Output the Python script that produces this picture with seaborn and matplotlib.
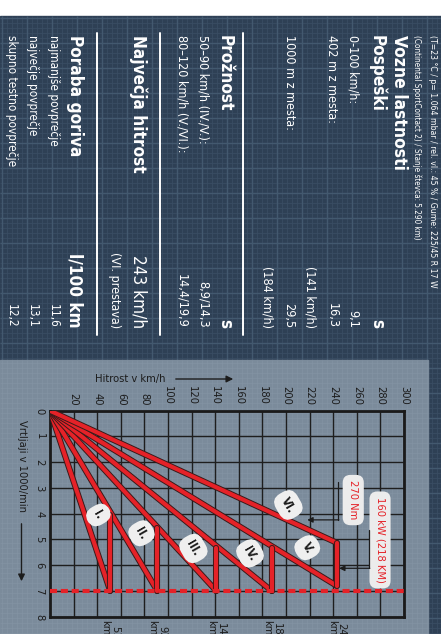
import matplotlib
matplotlib.use('Agg')
import matplotlib.pyplot as plt
import matplotlib.patheffects as pe
from matplotlib.patches import Rectangle
import numpy as np
import pandas as pd
import seaborn as sns

sns.set_theme(style='white')
plt.rcParams['font.family'] = ['DejaVu Sans']
plt.rcParams['font.stretch'] = 'condensed'

# gear lines (km/h vs 1000/min)
gears = ['I.', 'II.', 'III.', 'IV.', 'V.', 'VI.']
gear_top_speed = [51, 91, 141, 188, 243, 243]
gear_top_rpm = [7.0, 7.0, 7.0, 7.0, 6.8, 5.13]
shift_speed = [51, 91, 141, 188, 243]
shift_high_rpm = [7.0, 7.0, 7.0, 7.0, 6.8]
shift_low_rpm = [4.05, 4.57, 5.35, 5.33, 5.13]
max_rpm = 7.0
speed_ticks = list(range(20, 301, 20))
rpm_ticks = list(range(0, 9))
top_speed_labels = ['51\nkm/h', '92\nkm/h', '141\nkm/h', '188\nkm/h', '243\nkm/h']

# text block: (left text, right text, bold)
spec_rows = [
    ('Pospeški', 's', True),
    ('0-100 km/h:', '9,1', False),
    ('402 m z mesta:', '16,3', False),
    ('', '(141 km/h)', False),
    ('1000 m z mesta:', '29,5', False),
    ('', '(184 km/h)', False),
    ('Prožnost', 's', True),
    ('50–90 km/h (IV./V.):', '8,9/14,3', False),
    ('80–120 km/h (V./VI.):', '14,4/19,9', False),
    ('Največja hitrost', '243 km/h', True),
    ('', '(VI. prestava)', False),
    ('Poraba goriva', 'l/100 km', True),
    ('najmanjše povprečje', '11,6', False),
    ('največje povprečje', '13,1', False),
    ('skupno testno povprečje', '12,2', False),
]
row_x = [377, 353, 332, 310, 289, 267, 225, 203, 182, 138, 115, 75, 53, 32, 11]
row_size = [12.3, 9, 9, 9, 9, 9, 12.3, 9, 9, 12.3, 9, 12.3, 8.5, 8.5, 8.5]

NAVY = '#2e4055'
PANEL = '#7b8b9b'
RED = '#e52228'
INK = '#1c1c1c'

fig = plt.figure(figsize=(4.41, 6.34), dpi=100)
fig.patch.set_facecolor('white')
bg = fig.add_axes([0, 0, 1, 1])
bg.set_xlim(0, 441)
bg.set_ylim(634, 0)
bg.axis('off')

bg.add_patch(Rectangle((0, 16), 441, 618, color=NAVY, zorder=0))
bg.vlines(np.arange(2, 441, 5), 16, 634, color='#394d63', lw=0.6, zorder=1)
bg.hlines(np.arange(18, 634, 5), 0, 441, color='#394d63', lw=0.6, zorder=1)
bg.vlines(np.arange(2, 441, 25), 16, 634, color='#43596f', lw=1.0, zorder=1)
bg.hlines(np.arange(18, 634, 25), 0, 441, color='#43596f', lw=1.0, zorder=1)

bg.add_patch(Rectangle((0, 360), 428, 274, color=PANEL, zorder=2))
bg.vlines(np.arange(2, 428, 5), 360, 634, color='#8393a3', lw=0.5, zorder=2.1)
bg.hlines(np.arange(363, 634, 5), 0, 428, color='#8393a3', lw=0.5, zorder=2.1)


def col(x, y, s, size, bold=False, va='top', color='white'):
    bg.text(x, y, s, rotation=-90, ha='center', va=va, fontsize=size,
            fontweight='bold' if bold else 'normal', color=color, zorder=3)


col(433, 35, '(T=23 °C / p= 1.064 mbar / rel. vl.: 45 % / Gume: 225/45 R 17 W', 6.2)
col(417, 35, '(Continental SportContact 2) / Stanje števca: 5.290 km)', 5.9)
col(399, 35, 'Vozne lastnosti', 12.5, bold=True)
for x, size, (left, right, bold) in zip(row_x, row_size, spec_rows):
    if left:
        col(x, 35, left, size, bold=bold)
    col(x, 328, right, size, bold=bold and right != '243 km/h', va='bottom')
for sx in [243, 160, 97]:
    bg.plot([sx, sx], [33, 335], color='white', lw=1.4, zorder=3)

# axis captions
bg.text(95, 379, 'Hitrost v km/h', ha='left', va='center', fontsize=8, color=INK, zorder=3)
bg.annotate('', xy=(236, 379), xytext=(173, 379), zorder=3,
            arrowprops=dict(arrowstyle='-|>', color=INK, lw=1, mutation_scale=10))
bg.text(21.5, 420, 'Vrtljaji v 1000/min', rotation=-90, ha='center', va='top',
        fontsize=8, color=INK, zorder=3)
bg.annotate('', xy=(21.5, 584), xytext=(21.5, 521), zorder=3,
            arrowprops=dict(arrowstyle='-|>', color=INK, lw=1, mutation_scale=10))

# chart
ax = fig.add_axes([50 / 441, 1 - 616.7 / 634, 354 / 441, 206 / 634])
ax.set_zorder(2)
ax.set_facecolor('none')

rows = []
for g, s, r in zip(gears, gear_top_speed, gear_top_rpm):
    rows.append((g, 0, 0))
    rows.append((g, s, r))
for i, (s, hi, lo) in enumerate(zip(shift_speed, shift_high_rpm, shift_low_rpm)):
    rows.append((f'shift{i}', s, hi))
    rows.append((f'shift{i}', s, lo))
segs = pd.DataFrame(rows, columns=['seg', 'speed', 'rpm'])

sns.lineplot(data=segs, x='speed', y='rpm', units='seg', estimator=None, sort=False,
             color=RED, lw=3, ax=ax, legend=False, zorder=4,
             path_effects=[pe.Stroke(linewidth=4.4, foreground='#3a1a1a'), pe.Normal()])
ax.axhline(max_rpm, color=RED, lw=3, dashes=(1.7, 0.9), zorder=5)

ax.set_xlim(0, 300)
ax.set_ylim(8, 0)
ax.xaxis.tick_top()
ax.set_xticks(speed_ticks)
ax.set_xticklabels([str(v) for v in speed_ticks], rotation=-90)
ax.set_yticks(rpm_ticks)
ax.set_yticklabels([str(v) for v in rpm_ticks], rotation=-90, va='center')
ax.tick_params(length=0, labelsize=8, labelcolor=INK, pad=4)
ax.grid(True, color='#1e1e1e', lw=1.0)
ax.set_xlabel('')
ax.set_ylabel('')
for sp in ax.spines.values():
    sp.set_visible(True)
    sp.set_color('#1a1a1a')
    sp.set_linewidth(2)

label_pos = [(41, 4.05), (77.5, 4.76), (121.5, 5.35), (169.5, 5.54), (218, 5.32), (202, 3.66)]
for g, (sx, ry) in zip(gears, label_pos):
    ax.text(sx, ry, g, rotation=-60, ha='center', va='center', fontsize=8.5, fontweight='bold',
            color=INK, zorder=6,
            bbox=dict(boxstyle='round,pad=0.5,rounding_size=0.9', fc='#efefef', ec='none'))

box = dict(boxstyle='round,pad=0.5,rounding_size=0.7', fc='#ececec', ec='none')
ax.text(257, 3.47, '270 Nm', rotation=-90, ha='center', va='center', fontsize=8,
        color=RED, zorder=6, bbox=box)
ax.plot([244.4, 244.4], [2.76, 4.24], color=INK, lw=0.9, zorder=6)
ax.annotate('', xy=(218, 4.24), xytext=(244.8, 4.24), zorder=6,
            arrowprops=dict(arrowstyle='-|>', color=INK, lw=0.9, mutation_scale=8, shrinkA=0, shrinkB=0))
ax.text(279.7, 5.02, '160 kW (218 KM)', rotation=-90, ha='center', va='center', fontsize=8,
        color=RED, zorder=6, bbox=box)
ax.plot([270.6, 270.6], [4.63, 6.12], color=INK, lw=0.9, zorder=6)
ax.annotate('', xy=(245, 6.12), xytext=(271, 6.12), zorder=6,
            arrowprops=dict(arrowstyle='-|>', color=INK, lw=0.9, mutation_scale=8, shrinkA=0, shrinkB=0))

for s, t in zip(gear_top_speed[:5], top_speed_labels):
    ax.annotate(t, xy=(s, 8), xytext=(0, -2.5), textcoords='offset points', rotation=-90,
                ha='center', va='top', fontsize=8, color=INK, linespacing=1.0,
                annotation_clip=False)

fig.savefig('out.png', dpi=100)
